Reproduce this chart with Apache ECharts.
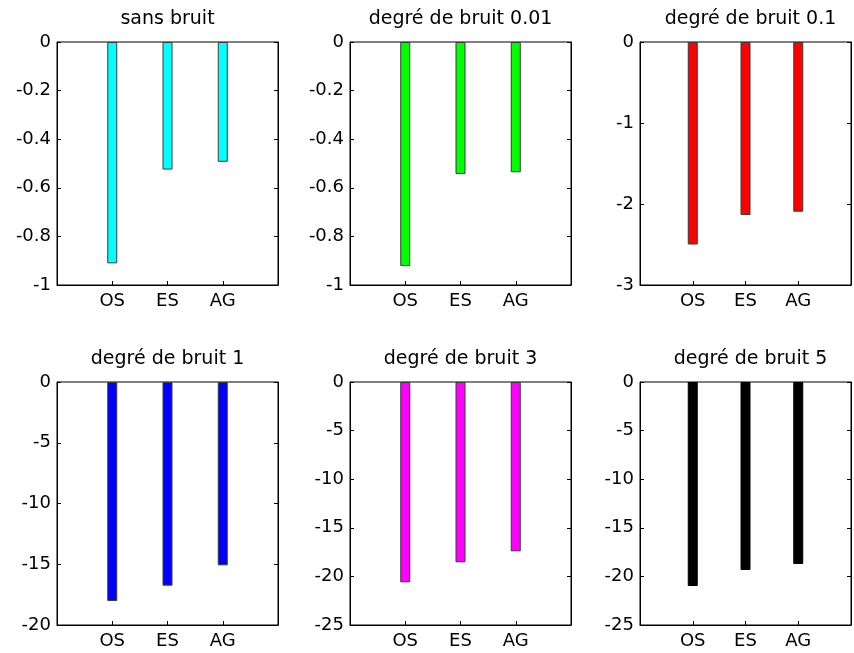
<!DOCTYPE html>
<html>
<head>
<meta charset="utf-8">
<script src="https://cdn.jsdelivr.net/npm/echarts@6/dist/echarts.min.js"></script>
<style>html,body{margin:0;padding:0;background:#fff}#c{width:854px;height:653px}</style>
</head>
<body>
<div id="c"></div>
<script>
// ---- data ----
var categories = ['OS', 'ES', 'AG'];
var titles = ['sans bruit', 'degré de bruit 0.01', 'degré de bruit 0.1', 'degré de bruit 1', 'degré de bruit 3', 'degré de bruit 5'];
var sansBruit = [-0.911, -0.525, -0.493];
var bruit001 = [-0.922, -0.543, -0.536];
var bruit01 = [-2.50, -2.136, -2.095];
var bruit1 = [-18.02, -16.76, -15.09];
var bruit3 = [-20.61, -18.55, -17.42];
var bruit5 = [-20.99, -19.34, -18.72];
var yMins = [-1, -1, -3, -20, -25, -25];
var yIntervals = [0.2, 0.2, 1, 5, 5, 5];
var colors = ['#00ffff', '#00ff00', '#ff0000', '#0000ff', '#ff00ff', '#000000'];
var seriesValues = [sansBruit, bruit001, bruit01, bruit1, bruit3, bruit5];

// ---- layout ----
var lefts = [57, 350, 640];
var tops = [42, 382];
var W = 221, H = 243;
var FONT = 'DejaVu Sans';

var grids = [], xAxes = [], yAxes = [], series = [], titleArr = [];
for (var i = 0; i < 6; i++) {
  var col = i % 3, row = Math.floor(i / 3);
  grids.push({left: lefts[col], top: tops[row], width: W, height: H,
    show: true, borderColor: '#000', borderWidth: 1, backgroundColor: '#fff', containLabel: false});
  xAxes.push({type: 'value', gridIndex: i, min: 0, max: 4, interval: 1,
    axisLine: {show: true, onZero: false, lineStyle: {color: '#000', width: 1}},
    axisTick: {show: true, inside: true, length: 4, lineStyle: {color: '#000'}},
    splitLine: {show: false},
    axisLabel: {color: '#000', fontFamily: FONT, fontSize: 18, margin: 7,
      formatter: function (v) { return categories[v - 1] || ''; }}
  });
  yAxes.push({type: 'value', gridIndex: i, position: 'left', min: yMins[i], max: 0, interval: yIntervals[i],
    axisLine: {show: true, lineStyle: {color: '#000', width: 1}},
    axisTick: {show: true, inside: true, length: 4, lineStyle: {color: '#000'}},
    splitLine: {show: false},
    axisLabel: {color: '#000', fontFamily: FONT, fontSize: 18, margin: 6}
  });
  yAxes.push({type: 'value', gridIndex: i, position: 'right', min: yMins[i], max: 0, interval: yIntervals[i],
    axisLine: {show: true, lineStyle: {color: '#000', width: 1}},
    axisTick: {show: true, inside: true, length: 4, lineStyle: {color: '#000'}},
    splitLine: {show: false},
    axisLabel: {show: false}
  });
  var d = seriesValues[i].map(function (v, k) { return [k + 1, v]; });
  series.push({type: 'bar', xAxisIndex: i, yAxisIndex: 2 * i, data: d, barWidth: 10,
    itemStyle: {color: colors[i], borderColor: i === 5 ? '#000' : '#3a3a3a', borderWidth: 1},
    silent: true, animation: false});
  titleArr.push({text: titles[i], left: lefts[col] + W / 2, top: row === 0 ? 10 : 350, textAlign: 'center', padding: 0,
    textStyle: {fontFamily: FONT, fontSize: 19, fontWeight: 'normal', color: '#000'}});
}

var chart = echarts.init(document.getElementById('c'), null, {renderer: 'canvas'});
chart.setOption({
  animation: false,
  backgroundColor: '#fff',
  title: titleArr,
  grid: grids,
  xAxis: xAxes,
  yAxis: yAxes,
  series: series
});
</script>
</body>
</html>
